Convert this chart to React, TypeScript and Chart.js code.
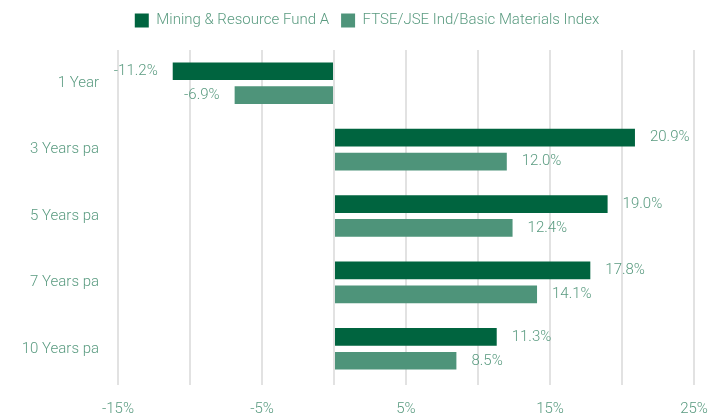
import React, { useEffect, useRef } from "react";
import { Chart, registerables } from "chart.js";

Chart.register(...registerables);

const categories = ["1 Year", "3 Years pa", "5 Years pa", "7 Years pa", "10 Years pa"];
const fundValues = [-11.2, 20.9, 19.0, 17.8, 11.3];
const indexValues = [-6.9, 12.0, 12.4, 14.1, 8.5];
const seriesNames = ["Mining & Resource Fund A", "FTSE/JSE Ind/Basic Materials Index"];
const fundColor = "#00643f";
const indexColor = "#4e947a";
const textColor = "#5a9b80";
const FONT = "Roboto";

const barLabels = {
  id: "barLabels",
  afterDatasetsDraw(chart: any) {
    const ctx = chart.ctx;
    ctx.save();
    ctx.font = `300 15px ${FONT}`;
    ctx.fillStyle = textColor;
    ctx.textBaseline = "middle";
    chart.data.datasets.forEach((ds: any, di: number) => {
      const meta = chart.getDatasetMeta(di);
      meta.data.forEach((el: any, i: number) => {
        const v = ds.data[i] as number;
        const txt = v.toFixed(1) + "%";
        if (v >= 0) {
          ctx.textAlign = "left";
          ctx.fillText(txt, el.x + 15, el.y);
        } else {
          ctx.textAlign = "right";
          ctx.fillText(txt, el.x - 15, el.y);
        }
      });
    });
    ctx.restore();
  },
};

const legendSpacing = {
  id: "legendSpacing",
  beforeInit(chart: any) {
    const legend = chart.legend;
    if (!legend) return;
    const origFit = legend.fit;
    legend.fit = function () {
      origFit.call(this);
      this.height += 12;
    };
  },
  afterLayout(chart: any) {
    const legend = chart.legend;
    if (!legend) return;
    legend.left += 25;
  },
};

export default function App() {
  const ref = useRef<HTMLCanvasElement>(null);
  useEffect(() => {
    if (!ref.current) return;
    const chart = new Chart(ref.current, {
      type: "bar",
      data: {
        labels: categories,
        datasets: [
          { label: seriesNames[0], data: fundValues, backgroundColor: fundColor, borderWidth: 0, barPercentage: 0.74, categoryPercentage: 0.72 },
          { label: seriesNames[1], data: indexValues, backgroundColor: indexColor, borderWidth: 0, barPercentage: 0.74, categoryPercentage: 0.72 },
        ],
      },
      options: {
        indexAxis: "y",
        animation: false,
        responsive: true,
        maintainAspectRatio: false,
        layout: { padding: { top: 1, left: 0, right: 0, bottom: 0 } },
        plugins: {
          legend: {
            position: "top",
            labels: {
              boxWidth: 14,
              boxHeight: 14,
              padding: 12,
              color: textColor,
              font: { family: FONT, size: 15, weight: "300" },
            },
          },
          tooltip: { enabled: false },
        },
        scales: {
          x: {
            min: -15,
            max: 25,
            afterFit(scale: any) {
              scale.height = 32;
              scale.paddingRight = 15;
              scale.paddingLeft = 15;
            },
            border: { display: false },
            grid: { color: "#e2e2e2", lineWidth: 2, tickLength: 3, drawTicks: true },
            ticks: {
              stepSize: 5,
              autoSkip: false,
              maxRotation: 0,
              padding: 15,
              color: textColor,
              font: { family: FONT, size: 15, weight: "300" },
              callback(value: any) {
                const v = Number(value);
                return Math.round(v / 5) % 2 !== 0 ? v + "%" : "";
              },
            },
          },
          y: {
            afterFit(scale: any) {
              scale.width = 118;
            },
            border: { display: false },
            grid: { display: false, drawTicks: false },
            ticks: {
              padding: 19,
              color: textColor,
              font: { family: FONT, size: 15, weight: "300" },
            },
          },
        },
      },
      plugins: [barLabels, legendSpacing],
    });
    return () => chart.destroy();
  }, []);
  return (
    <div style={{ position: "fixed", left: 0, top: 0, width: 709, height: 414 }}>
      <canvas ref={ref} />
    </div>
  );
}
